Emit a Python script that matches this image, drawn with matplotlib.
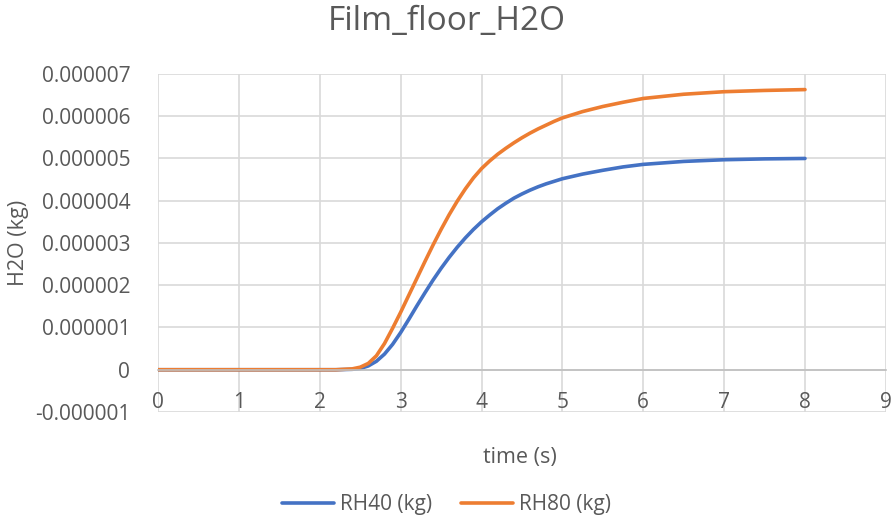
import numpy as np
import matplotlib
matplotlib.use("Agg")
from matplotlib import pyplot as plt

plt.rcParams['font.family'] = ['Open Sans', 'DejaVu Sans']

# time (s)
t = [0, 0.5, 1, 1.5, 2, 2.2, 2.4, 2.5, 2.6, 2.7, 2.8, 2.9, 3.0, 3.1, 3.2, 3.3,
     3.4, 3.5, 3.6, 3.7, 3.8, 3.9, 4.0, 4.1, 4.2, 4.3, 4.4, 4.5, 4.6, 4.7, 4.8,
     4.9, 5.0, 5.25, 5.5, 5.75, 6.0, 6.5, 7.0, 7.5, 8.0]

# H2O in units of 1e-6 kg
rh40 = [0, 0, 0, 0, 0, 0, 0.01, 0.03, 0.09, 0.2, 0.37, 0.6, 0.88, 1.19, 1.51, 1.82,
        2.12, 2.4, 2.66, 2.9, 3.12, 3.32, 3.5, 3.66, 3.81, 3.94, 4.06, 4.16, 4.25,
        4.33, 4.4, 4.46, 4.52, 4.63, 4.72, 4.8, 4.86, 4.93, 4.97, 4.99, 5.0]
rh80 = [0, 0, 0, 0, 0, 0, 0.02, 0.06, 0.15, 0.33, 0.62, 0.98, 1.36, 1.76, 2.16, 2.56,
        2.95, 3.32, 3.67, 3.99, 4.28, 4.54, 4.76, 4.94, 5.1, 5.24, 5.37, 5.49, 5.6,
        5.7, 5.79, 5.88, 5.96, 6.11, 6.23, 6.33, 6.42, 6.52, 6.58, 6.61, 6.63]

yticks = [-1, 0, 1, 2, 3, 4, 5, 6, 7]
ylabels = ['-0.000001', '0', '0.000001', '0.000002', '0.000003', '0.000004',
           '0.000005', '0.000006', '0.000007']

txt = '#595959'
grid = '#D9D9D9'

fig = plt.figure(figsize=(8.93, 5.19), dpi=100)
ax = fig.add_axes([0.177, 0.2062, 0.815, 0.6513])

ax.plot(t, np.array(rh40) * 1e-6, color='#4472C4', lw=2.6, label='RH40 (kg)',
        solid_capstyle='round', solid_joinstyle='round')
ax.plot(t, np.array(rh80) * 1e-6, color='#ED7D31', lw=2.6, label='RH80 (kg)',
        solid_capstyle='round', solid_joinstyle='round')

ax.set_xlim(0, 9)
ax.set_ylim(-1e-6, 7e-6)
ax.set_xticks(range(10))
ax.set_yticks([v * 1e-6 for v in yticks])
ax.set_yticklabels(ylabels)
ax.grid(True, color=grid, lw=1.2)
ax.set_axisbelow(True)

for s in ['top', 'right', 'left']:
    ax.spines[s].set_visible(False)
ax.spines['bottom'].set_position(('data', 0))
ax.spines['bottom'].set_color('#BFBFBF')
ax.spines['bottom'].set_linewidth(1.2)

ax.tick_params(axis='both', length=0, labelsize=15, labelcolor=txt)
ax.tick_params(axis='y', pad=20)
ax.tick_params(axis='x', pad=16)

ax.set_xlabel('time (s)', fontsize=15.5, color=txt, labelpad=0)
ax.xaxis.set_label_coords(0.497, -0.105)
ax.set_ylabel('H2O (kg)', fontsize=15.5, color=txt, va='center')
ax.yaxis.set_label_coords(-0.192, 0.5)

fig.text(0.5, 0.958, 'Film_floor_H2O', ha='center', va='center', fontsize=24, color=txt)

fig.legend(loc='center', bbox_to_anchor=(0.5, 0.027), ncol=2, frameon=False,
           fontsize=15, labelcolor=txt, handlelength=2.5, handletextpad=0.3,
           columnspacing=1.35)

fig.savefig('out.png', dpi=100, facecolor='white')
